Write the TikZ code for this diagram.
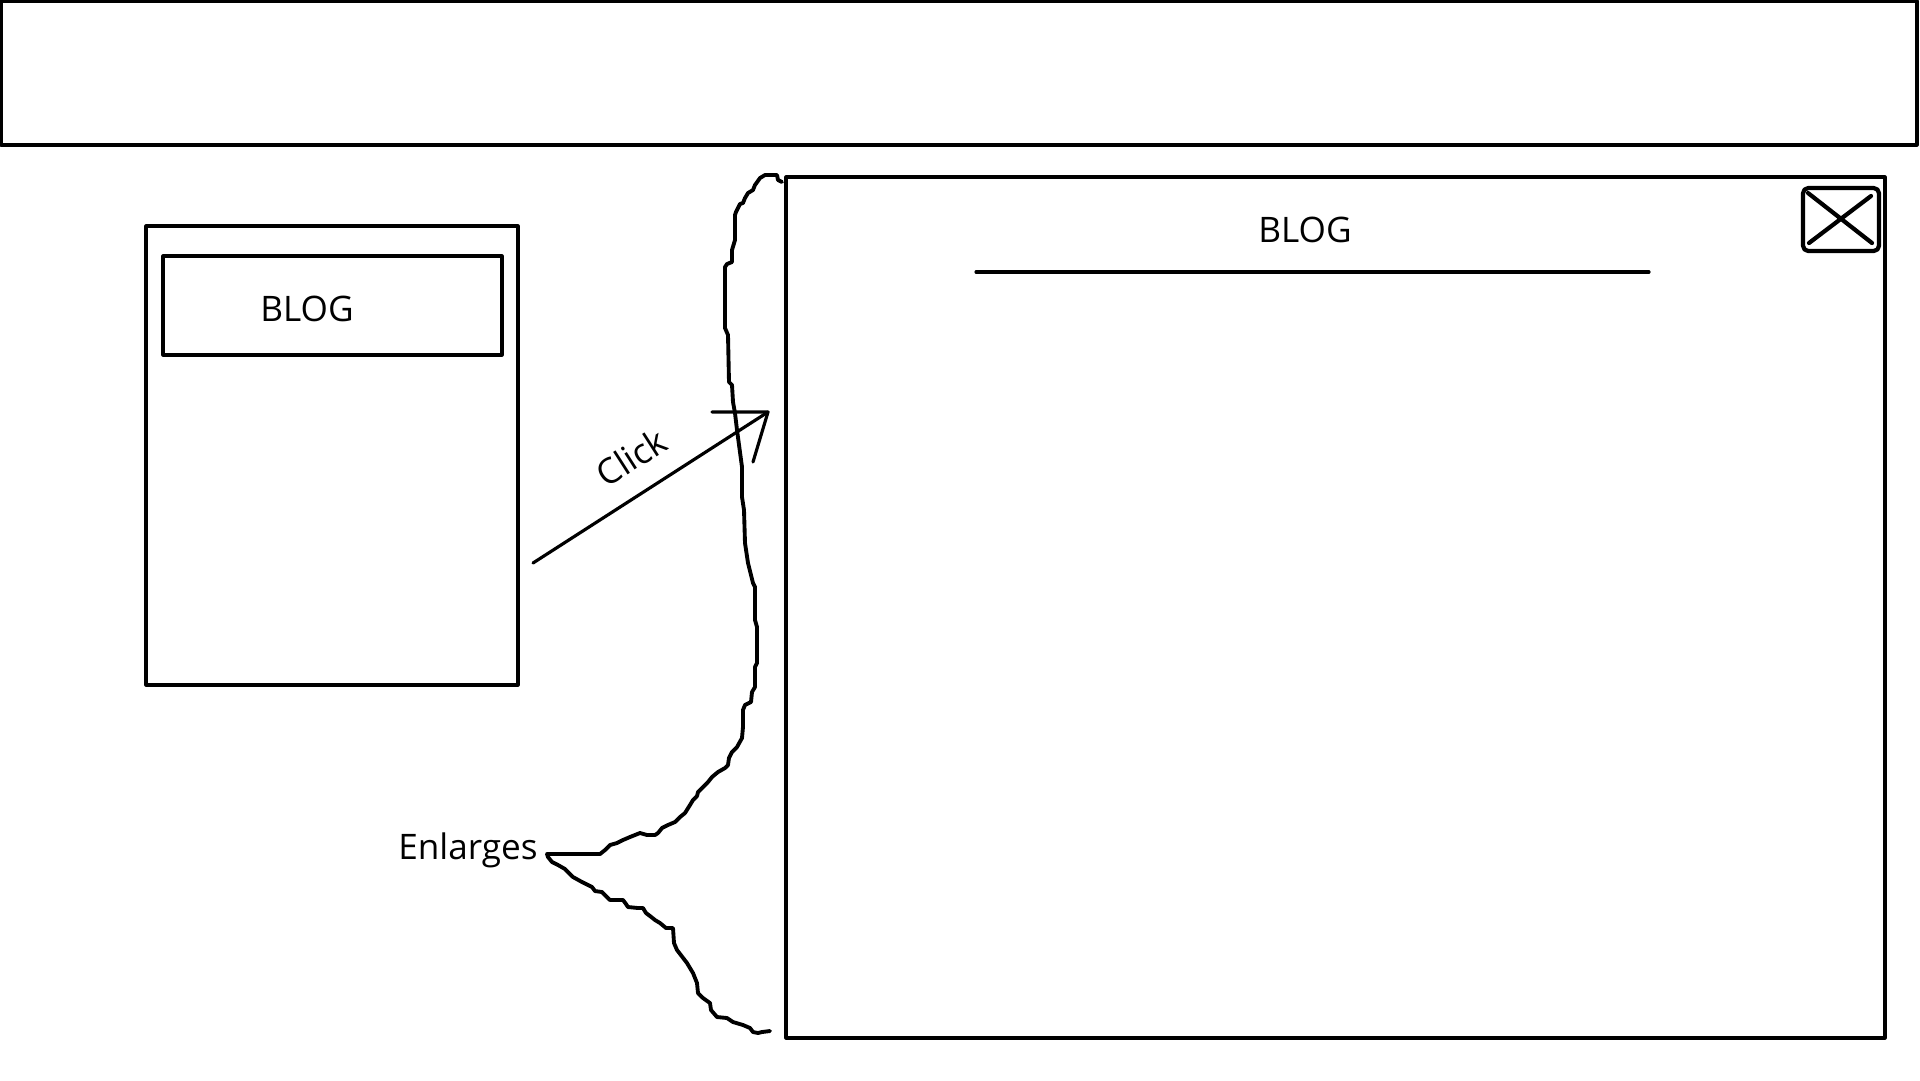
\documentclass[tikz,border=0pt]{standalone}
\usepackage{fontspec}
\setmainfont{Open Sans}
\usepackage{tikz}
\usetikzlibrary{positioning}

\tikzset{
  frame/.style={draw,line width=0.9pt,inner sep=0pt},
  label text/.style={font=\fontsize{10}{12}\selectfont},
}

\begin{document}
\begin{tikzpicture}[x=0.1mm,y=-0.1mm,line join=round,line cap=round]
  \useasboundingbox (0,0) rectangle (1920,1080);
  % header bar
  \node[frame,minimum width=191.6mm,minimum height=14.4mm] (header) at (959,73) {};
  % small blog card
  \node[frame,minimum width=37.2mm,minimum height=45.9mm] (card) at (332,455.5) {};
  \node[frame,minimum width=33.9mm,minimum height=9.9mm] (cardtitle) at (332.5,305.5) {};
  \node[label text] (cardblog) at (307,309) {BLOG};
  % enlarged blog view
  \node[frame,minimum width=109.9mm,minimum height=86.1mm] (view) at (1335.5,607.5) {};
  \node[label text] (viewblog) at (1305,230) {BLOG};
  \draw[line width=0.9pt] (976,272) -- (1649,272);
  \node[frame,line width=1.2pt,rounded corners=1.5pt,minimum width=7.6mm,minimum height=6.3mm] (close) at (1841,219.5) {};
  \draw[line width=1.2pt] (1808,193) -- (1872,243) (1871,196) -- (1809,243);
  % click arrow
  \coordinate (clickfrom) at (533,563);
  \coordinate (clickto) at (768,412);
  \draw[line width=0.9pt] (clickfrom) -- (clickto)
    node[pos=0.5,above=0.9mm,sloped,label text] (click) {Click};
  \draw[line width=0.9pt] (712,412) -- (clickto) -- (753,462);
  % freehand brace
  \draw[line width=1.1pt]
    (782,182) -- (778,180) -- (777,175) -- (765,175) -- (760,178) -- (755,185)
    -- (753,190) -- (748,193) -- (745,198) -- (743,203) -- (740,204) -- (736,212)
    -- (735,215) -- (735,240) -- (732,250) -- (732,262) -- (727,264) -- (725,267)
    -- (725,328) -- (728,335) -- (729,382) -- (732,385) -- (733,402) -- (735,413)
    -- (737,430) -- (742,467) -- (742,497) -- (744,510) -- (745,543) -- (748,563)
    -- (753,583) -- (755,587) -- (755,620) -- (757,627) -- (757,663) -- (755,667)
    -- (755,687) -- (752,692) -- (751,702) -- (745,705) -- (743,710) -- (743,727)
    -- (742,738) -- (737,747) -- (732,752) -- (729,758) -- (728,765) -- (725,768)
    -- (718,772) -- (712,777) -- (708,782) -- (698,792) -- (697,796) -- (693,800)
    -- (690,805) -- (685,813) -- (680,817) -- (675,822) -- (668,825) -- (662,828)
    -- (658,833) -- (655,835) -- (647,835) -- (640,833) -- (630,837) -- (623,840)
    -- (617,843) -- (610,845) -- (605,850) -- (600,854) -- (547,854)
    -- (548,857) -- (552,862) -- (558,865) -- (565,869) -- (573,877) -- (582,882)
    -- (592,887) -- (595,891) -- (602,892) -- (607,897) -- (610,900) -- (623,900)
    -- (626,904) -- (628,907) -- (638,908) -- (643,908) -- (646,913) -- (650,916)
    -- (655,920) -- (660,923) -- (666,928) -- (673,928) -- (674,943) -- (677,950)
    -- (687,963) -- (693,973) -- (697,983) -- (698,993) -- (703,998) -- (710,1003)
    -- (711,1010) -- (717,1017) -- (727,1018) -- (733,1022) -- (743,1025)
    -- (750,1028) -- (753,1032) -- (758,1033) -- (762,1032) -- (770,1031);
  \node[label text] (enlarges) at (468,850) {Enlarges};
\end{tikzpicture}
\end{document}
